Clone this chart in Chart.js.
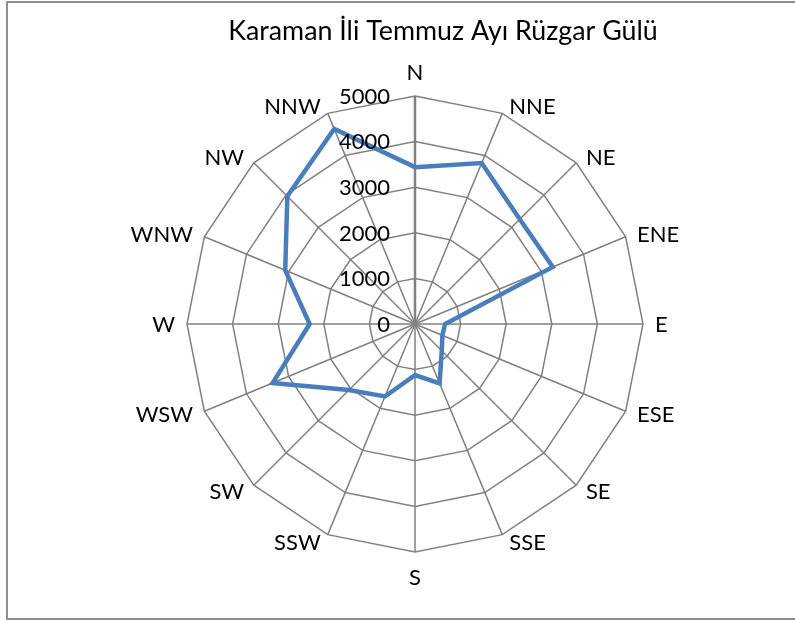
<!DOCTYPE html>
<html>
<head>
<meta charset="utf-8">
<script src="https://cdn.jsdelivr.net/npm/chart.js@4/dist/chart.umd.min.js"></script>
<style>
html,body{margin:0;padding:0;background:#fff;overflow:hidden;}
#wrap{position:relative;width:795px;height:621px;}
#frame{position:absolute;left:6px;top:1px;width:795px;height:619px;box-sizing:border-box;border:2px solid #8e8e8e;pointer-events:none;}
canvas{position:absolute;left:0;top:0;}
</style>
</head>
<body>
<div id="wrap">
<canvas id="c" width="795" height="621"></canvas>
<div id="frame"></div>
</div>
<script>
const title = "Karaman İli Temmuz Ayı Rüzgar Gülü";
const directions = ["N","NNE","NE","ENE","E","ESE","SE","SSE","S","SSW","SW","WSW","W","WNW","NW","NNW"];
const windValues = [3440,3820,3250,3270,660,650,830,1410,1120,1720,2050,3380,2310,3080,3960,4630];
const tickValues = [0,1000,2000,3000,4000,5000];

const FONT = "Lato, 'Open Sans', sans-serif";
const labelPlugin = {
  id: 'labels',
  afterDraw(chart) {
    const ctx = chart.ctx;
    const s = chart.scales.r;
    const R = s.drawingArea;
    ctx.save();
    ctx.fillStyle = '#000';
    // title
    ctx.font = "26.8px " + FONT;
    ctx.textAlign = 'center';
    ctx.textBaseline = 'alphabetic';
    ctx.fillText(title, 443, 40);
    // point labels
    const fs = 22, cap = fs * 0.716;
    ctx.font = fs + "px " + FONT;
    const n = directions.length;
    directions.forEach((lab, i) => {
      const th = i * 2 * Math.PI / n;
      const sn = Math.sin(th), cs = Math.cos(th);
      const p = s.getPointPosition(i, R);
      let x, cy, align;
      if (Math.abs(sn) < 1e-6) {
        align = 'center'; x = p.x;
        cy = p.y + (cs > 0 ? -24 : 25);
      } else {
        const off = 4 + 8 * Math.abs(sn);
        if (sn > 0) { align = 'left'; x = p.x + off; } else { align = 'right'; x = p.x - off; }
        cy = p.y - (cap / 2) * cs;
      }
      ctx.textAlign = align;
      ctx.fillText(lab, x, cy + cap / 2);
    });
    // tick labels
    ctx.textAlign = 'right';
    tickValues.forEach(v => {
      const y = s.yCenter - s.getDistanceFromCenterForValue(v);
      ctx.fillText(String(v), s.xCenter - 25, y + cap / 2);
    });
    ctx.restore();
  }
};

new Chart(document.getElementById('c'), {
  type: 'radar',
  data: {
    labels: directions,
    datasets: [{
      label: title,
      data: windValues,
      borderColor: '#4A7EBB',
      borderWidth: 4.5,
      pointRadius: 0,
      pointHoverRadius: 0,
      fill: false,
      tension: 0,
      borderJoinStyle: 'miter'
    }]
  },
  options: {
    responsive: false,
    animation: false,
    devicePixelRatio: 1,
    layout: { padding: { left: 187, right: 151, top: 96, bottom: 69 } },
    plugins: { legend: { display: false }, title: { display: false }, tooltip: { enabled: false } },
    scales: {
      r: {
        min: 0,
        max: 5000,
        ticks: { display: false, stepSize: 1000 },
        pointLabels: { display: false },
        grid: { circular: false, color: '#808080', lineWidth: 1.5 },
        angleLines: {
          color: '#808080',
          lineWidth: (ctx) => ctx.index === 0 ? 2.5 : 1.5
        }
      }
    }
  },
  plugins: [labelPlugin]
});
</script>
</body>
</html>
